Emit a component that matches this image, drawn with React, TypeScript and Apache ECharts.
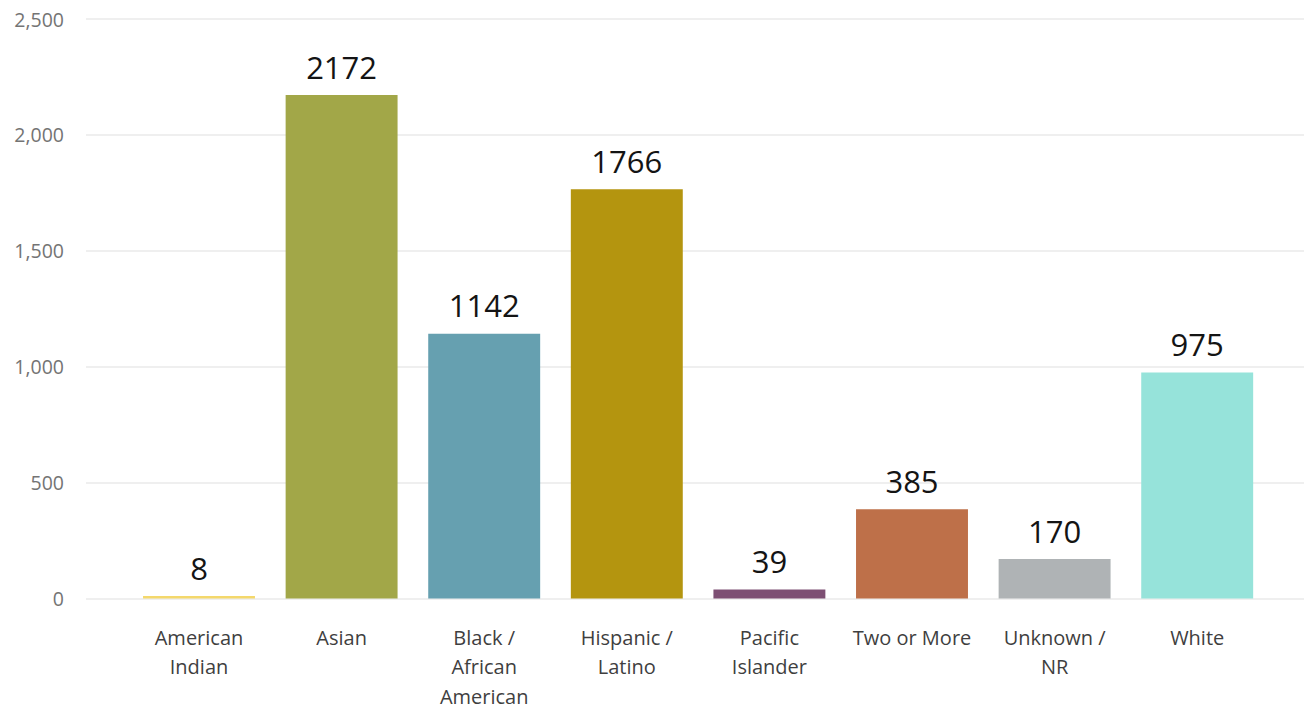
import React, { useEffect, useRef } from "react";
import * as echarts from "echarts";

const categories = [
  "American\nIndian",
  "Asian",
  "Black /\nAfrican\nAmerican",
  "Hispanic /\nLatino",
  "Pacific\nIslander",
  "Two or More",
  "Unknown /\nNR",
  "White",
];
const counts = [8, 2172, 1142, 1766, 39, 385, 170, 975];
const barColors = ["#F4D86C", "#A2A748", "#66A0B0", "#B4950F", "#7D4F73", "#BE7049", "#AFB3B5", "#96E3DA"];
const yTicks = { min: 0, max: 2500, interval: 500 };

const FONT = "'Open Sans', 'Noto Sans', sans-serif";

export default function App() {
  const ref = useRef<HTMLDivElement>(null);
  useEffect(() => {
    if (!ref.current) return;
    const chart = echarts.init(ref.current, undefined, { renderer: "svg" });
    const gTop = 19;
    const gBottom = 112.5;
    chart.setOption({
      animation: false,
      grid: [
        { left: 86, right: 3, top: gTop, bottom: gBottom },
        { left: 127.7, right: 38.5, top: gTop, bottom: gBottom },
      ],
      xAxis: [
        { gridIndex: 0, type: "value", show: false, min: 0, max: 1 },
        {
          gridIndex: 1,
          type: "category",
          data: categories,
          axisLine: { show: false },
          axisTick: { show: false },
          axisLabel: {
            interval: 0,
            margin: 24,
            fontFamily: FONT,
            fontSize: 20,
            lineHeight: 29.5,
            color: "#3F3F3F",
            verticalAlign: "top",
          },
        },
      ],
      yAxis: [
        {
          gridIndex: 0,
          type: "value",
          min: yTicks.min,
          max: yTicks.max,
          interval: yTicks.interval,
          axisLine: { show: false },
          axisTick: { show: false },
          axisLabel: {
            margin: 22,
            fontFamily: FONT,
            fontSize: 19.5,
            color: "#747474",
            formatter: (v: number) => v.toLocaleString("en-US"),
          },
          splitLine: { lineStyle: { color: "#EAEAEA", width: 1.5 } },
        },
        {
          gridIndex: 1,
          type: "value",
          min: yTicks.min,
          max: yTicks.max,
          interval: yTicks.interval,
          show: false,
          splitLine: { show: false },
        },
      ],
      series: [
        {
          type: "bar",
          xAxisIndex: 1,
          yAxisIndex: 1,
          barCategoryGap: "21.5%",
          barMinHeight: 2.5,
          data: counts.map((v, i) => ({ value: v, itemStyle: { color: barColors[i] } })),
          label: {
            show: true,
            position: "top",
            distance: 13,
            fontFamily: FONT,
            fontSize: 31,
            color: "#141414",
          },
        },
      ],
    });
    return () => chart.dispose();
  }, []);
  return (
    <div
      ref={ref}
      style={{ position: "fixed", left: 0, top: 0, width: 1307, height: 711, background: "#fff" }}
    />
  );
}
